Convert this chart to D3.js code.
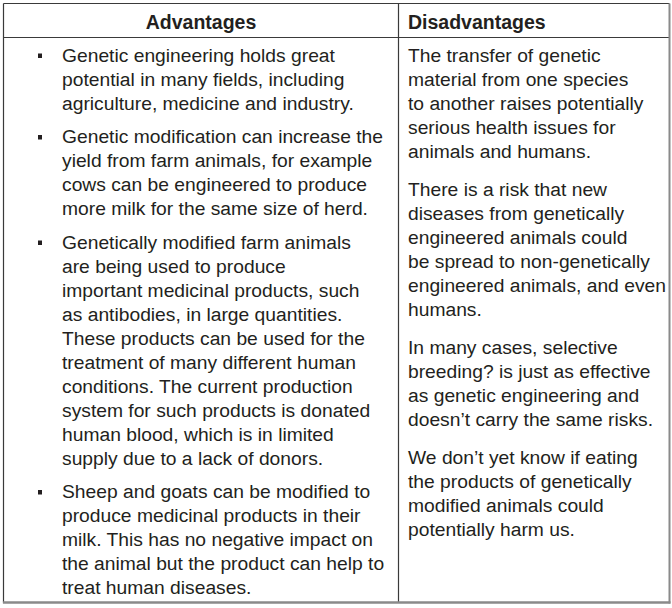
<!DOCTYPE html>
<html>
<head>
<meta charset="utf-8">
<script src="https://cdn.jsdelivr.net/npm/d3@7"></script>
<style>
  html, body { margin: 0; padding: 0; background: #fff; }
  svg { display: block; }
</style>
</head>
<body>
<div id="chart"></div>
<script>
// column headers
const headers = ["Advantages", "Disadvantages"];

// left column: bulleted paragraphs, one entry per printed line
const advantages = [
  ["Genetic engineering holds great",
   "potential in many fields, including",
   "agriculture, medicine and industry."],
  ["Genetic modification can increase the",
   "yield from farm animals, for example",
   "cows can be engineered to produce",
   "more milk for the same size of herd."],
  ["Genetically modified farm animals",
   "are being used to produce",
   "important medicinal products, such",
   "as antibodies, in large quantities.",
   "These products can be used for the",
   "treatment of many different human",
   "conditions. The current production",
   "system for such products is donated",
   "human blood, which is in limited",
   "supply due to a lack of donors."],
  ["Sheep and goats can be modified to",
   "produce medicinal products in their",
   "milk. This has no negative impact on",
   "the animal but the product can help to",
   "treat human diseases."]
];

// right column: plain paragraphs
const disadvantages = [
  ["The transfer of genetic",
   "material from one species",
   "to another raises potentially",
   "serious health issues for",
   "animals and humans."],
  ["There is a risk that new",
   "diseases from genetically",
   "engineered animals could",
   "be spread to non-genetically",
   "engineered animals, and even",
   "humans."],
  ["In many cases, selective",
   "breeding? is just as effective",
   "as genetic engineering and",
   "doesn\u2019t carry the same risks."],
  ["We don\u2019t yet know if eating",
   "the products of genetically",
   "modified animals could",
   "potentially harm us."]
];

const W = 672, H = 608;
const box = {left: 3.5, top: 3.5, right: 669.5, bottom: 602.5};
const divX = 398.5, headY = 37.5;
const lineH = 24;
const font = "'Liberation Sans', Arial, Helvetica, sans-serif";
const ink = "#231f20";

const svg = d3.select("#chart").append("svg")
  .attr("width", W)
  .attr("height", H);

// lay out each paragraph's lines: running line count + paragraph gap
function layout(paras, gap, firstBase) {
  const out = [];
  let y = firstBase;
  paras.forEach((p, pi) => {
    p.forEach((t, li) => {
      out.push({text: t, para: pi, first: li === 0, y: y});
      y += lineH;
    });
    y += gap;
  });
  return out;
}

const leftLines = layout(advantages, 9.5, 61.5);
const rightLines = layout(disadvantages, 14, 61.5);

// header row
const hx = d3.scaleOrdinal().domain(headers).range([(box.left + divX) / 2, divX + 9.5]);
svg.selectAll(".head")
  .data(headers)
  .enter().append("text")
  .attr("class", "head")
  .attr("x", d => hx(d))
  .attr("y", 28.5)
  .attr("text-anchor", (d, i) => i === 0 ? "middle" : "start")
  .style("font-family", font)
  .style("font-weight", "bold")
  .style("font-size", "19.5px")
  .attr("fill", ink)
  .text(d => d);

// left column text
const left = svg.append("g").attr("class", "advantages");
left.selectAll("text")
  .data(leftLines)
  .enter().append("text")
  .attr("x", 62)
  .attr("y", d => d.y)
  .style("font-family", font)
  .style("font-size", "19.25px")
  .attr("fill", ink)
  .text(d => d.text);

// square bullets on the first line of each paragraph
left.selectAll("rect")
  .data(leftLines.filter(d => d.first))
  .enter().append("rect")
  .attr("x", 38)
  .attr("y", d => d.y - 8)
  .attr("width", 4)
  .attr("height", 4.5)
  .attr("fill", ink);

// right column text
svg.append("g").attr("class", "disadvantages")
  .selectAll("text")
  .data(rightLines)
  .enter().append("text")
  .attr("x", 408)
  .attr("y", d => d.y)
  .style("font-family", font)
  .style("font-size", "19.25px")
  .attr("fill", ink)
  .text(d => d.text);

// table rules
const grid = svg.append("g").attr("class", "grid")
  .attr("fill", "none");
grid.append("line").attr("x1", box.left).attr("x2", box.right).attr("y1", box.top).attr("y2", box.top)
  .attr("stroke", "#3a3a3a").attr("stroke-width", 1.2);
grid.append("line").attr("x1", box.left).attr("x2", box.left).attr("y1", box.top).attr("y2", box.bottom)
  .attr("stroke", "#3a3a3a").attr("stroke-width", 1.2);
grid.append("line").attr("x1", box.left).attr("x2", box.right).attr("y1", headY).attr("y2", headY)
  .attr("stroke", "#3a3a3a").attr("stroke-width", 1.2);
grid.append("line").attr("x1", divX).attr("x2", divX).attr("y1", box.top).attr("y2", box.bottom)
  .attr("stroke", "#3a3a3a").attr("stroke-width", 1.2);
grid.append("line").attr("x1", box.right).attr("x2", box.right).attr("y1", box.top).attr("y2", box.bottom + 1)
  .attr("stroke", "#8a8a8a").attr("stroke-width", 2);
grid.append("line").attr("x1", box.left - 0.6).attr("x2", box.right + 1).attr("y1", box.bottom).attr("y2", box.bottom)
  .attr("stroke", "#8a8a8a").attr("stroke-width", 2.5);
</script>
</body>
</html>
